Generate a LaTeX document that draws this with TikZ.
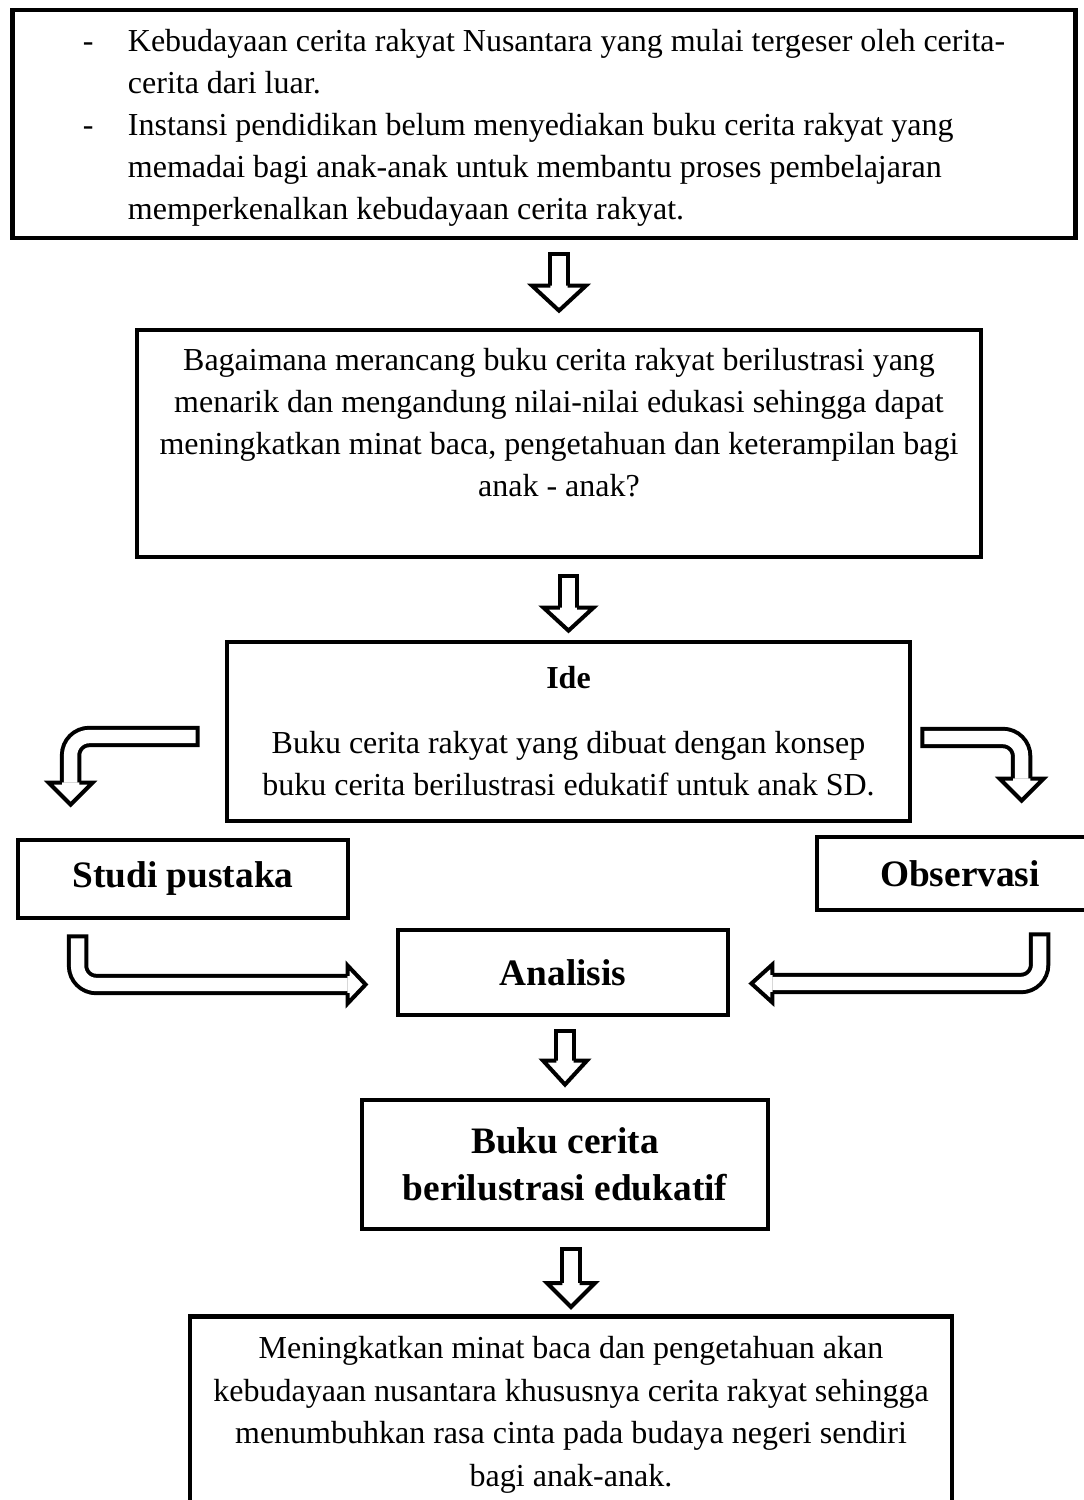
\documentclass[tikz,border=0pt]{standalone}
\usepackage{fontspec}
\setmainfont{Liberation Serif}
\usetikzlibrary{calc}

% hollow head of a block arrow, pointing along +y (downwards here)
\tikzset{
  pics/blockhead/.style n args={2}{code={
    \fill[white] (-#1,0) -- (0,#2) -- (#1,0) -- cycle;
    \draw[line width=1.5pt, line join=miter] (-8.7,0) -- (-#1,0) -- (0,#2) -- (#1,0) -- (8.7,0);
  }}
}

\begin{document}
\begin{tikzpicture}[x=0.375pt, y=-0.375pt,
    box/.style={draw, line width=1.8pt, inner sep=0pt, align=center,
                font=\fontsize{12}{15.8}\selectfont},
    judul/.style={box, font=\fontsize{14}{17.6}\selectfont\bfseries},
    shaft/.style={line width=8pt, rounded corners=7pt,
                  postaction={draw, white, line width=5pt, shorten <=1.5pt}}]
  % x, y in pixels of the 1084 x 1500 page, y runs downwards
  \useasboundingbox (0,0) rectangle (1084,1500);

  % boxes
  \node[box, align=left, minimum width=398.6pt, minimum height=85.5pt] (latar) at (544,124)
    {\rule{0pt}{11.2pt}\makebox[16.9pt][l]{-}Kebudayaan cerita rakyat Nusantara yang mulai tergeser oleh cerita-\\
     \hspace*{16.9pt}cerita dari luar.\\
     \makebox[16.9pt][l]{-}Instansi pendidikan belum menyediakan buku cerita rakyat yang\\
     \hspace*{16.9pt}memadai bagi anak-anak untuk membantu proses pembelajaran\\
     \hspace*{16.9pt}memperkenalkan kebudayaan cerita rakyat.};
  \node[box, minimum width=316.5pt, minimum height=85.1pt] (rumusan) at (559,443.5)
    {Bagaimana merancang buku cerita rakyat berilustrasi yang\\
     menarik dan mengandung nilai-nilai edukasi sehingga dapat\\
     meningkatkan minat baca, pengetahuan dan keterampilan bagi\\
     anak - anak?\\ \mbox{}};
  \node[box, minimum width=256.1pt, minimum height=67.1pt] (ide) at (568.5,731.5)
    {\textbf{Ide}\\[8.6pt]
     Buku cerita rakyat yang dibuat dengan konsep\\
     buku cerita berilustrasi edukatif untuk anak SD.};
  \node[judul, minimum width=123.75pt, minimum height=29.25pt] (studi) at (183,879) {Studi pustaka};
  \node[judul, minimum width=107.25pt, minimum height=27.4pt] (obs) at (960,873.5) {Observasi};
  \node[judul, minimum width=123.75pt, minimum height=31.9pt] (analisis) at (563,972.5) {Analisis};
  \node[judul, minimum width=152.25pt, minimum height=48.4pt] (buku) at (565,1164.5)
    {Buku cerita\\berilustrasi edukatif};
  \node[box, anchor=north, minimum width=285.75pt, inner ysep=7.4pt,
        font=\fontsize{12}{16}\selectfont] (manfaat) at (571,1314)
    {Meningkatkan minat baca dan pengetahuan akan\\
     kebudayaan nusantara khususnya cerita rakyat sehingga\\
     menumbuhkan rasa cinta pada budaya negeri sendiri\\
     bagi anak-anak.\\ \mbox{}};

  % straight block arrows
  \draw[shaft] ($(latar.south -| rumusan.north)+(0,12)$) -- ($(rumusan.north)+(0,-42)$);
  \pic at ($(rumusan.north)+(0,-42)$) {blockhead={27}{25}};
  \draw[shaft] ($(rumusan.south -| ide.north)+(0,15)$) -- ($(ide.north)+(0,-32)$);
  \pic at ($(ide.north)+(0,-32)$) {blockhead={25}{23}};
  \draw[shaft] ($(analisis.south -| buku.north)+(0,12)$) -- ($(buku.north)+(0,-37)$);
  \pic at ($(buku.north)+(0,-37)$) {blockhead={22}{24}};
  \draw[shaft] ($(buku.south -| manfaat.north)+(0,16)$) -- ($(manfaat.north)+(0,-31)$);
  \pic at ($(manfaat.north)+(0,-31)$) {blockhead={24}{24}};

  % bent block arrows
  \coordinate (kiri) at ($(studi.north west)+(55,-55)$);
  \coordinate (kanan) at ($(obs.north west)+(207,-56)$);
  \draw[shaft] ($(ide.west)+(-25,5)$) -| (kiri);
  \pic at (kiri) {blockhead={22}{22}};
  \draw[shaft] ($(ide.east)+(8,6)$) -| (kanan);
  \pic at (kanan) {blockhead={22}{22}};

  \coordinate (masuk1) at ($(analisis.west)+(-48,12)$);
  \coordinate (masuk2) at ($(analisis.east)+(42,11)$);
  \draw[shaft] ($(studi.south west)+(62,14)$) |- (masuk1);
  \pic[rotate=90] at (masuk1) {blockhead={19}{18}};
  \draw[shaft] ($(obs.south west)+(225,20)$) |- (masuk2);
  \pic[rotate=-90] at (masuk2) {blockhead={19}{21}};
\end{tikzpicture}
\end{document}
